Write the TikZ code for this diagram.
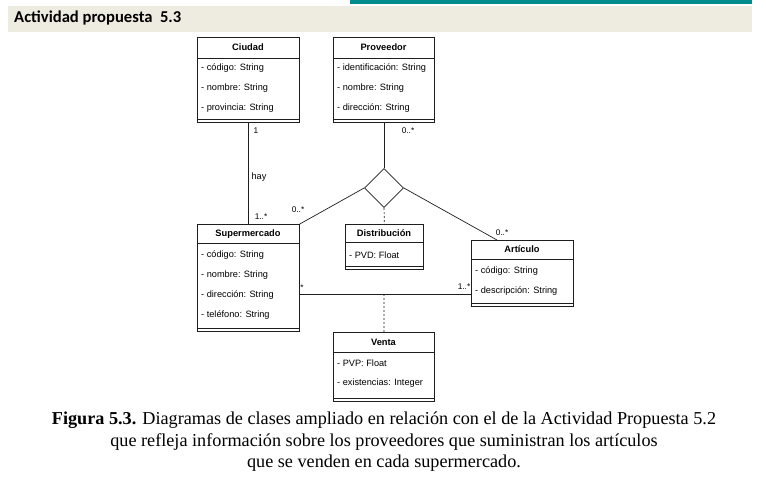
\documentclass[tikz,border=0pt]{standalone}
\usepackage{fontspec}
\setmainfont{Liberation Serif}
\setsansfont{Liberation Sans}
\newfontfamily\headfont{Carlito}
\usetikzlibrary{shapes.geometric}
\definecolor{headbg}{RGB}{238,236,225}
\definecolor{tealbar}{RGB}{0,140,140}
\definecolor{umlline}{RGB}{30,30,30}

\begin{document}
\begin{tikzpicture}[
  x=1pt, y=-1pt,
  every node/.style={inner sep=0pt, font=\sffamily\fontsize{9.2}{11}\selectfont},
  classbox/.style={draw=umlline, line width=0.8pt, fill=white, anchor=north west},
  title/.style={font=\sffamily\bfseries\fontsize{9.3}{11}\selectfont},
  attr/.style={anchor=west},
  mult/.style={font=\sffamily\fontsize{8.3}{10}\selectfont},
  assoc/.style={draw=umlline, line width=0.7pt},
  dep/.style={assoc, dash pattern=on 2pt off 2pt}
]
\useasboundingbox[fill=white] (0,0) rectangle (766,481);
\fill[headbg] (8,6) rectangle (752,32);
\fill[tealbar] (350,0) rectangle (752,4);
\node[anchor=west, font=\headfont\bfseries\fontsize{16.6}{18}\selectfont] (head) at (14,18) {Actividad propuesta\ \ 5.3};

% classes
\node[classbox, minimum width=102, minimum height=85] (ciudad) at (197,37) {};
\draw[umlline, line width=0.8pt] (197,58) -- (299,58) (197,119) -- (299,119);
\node[title] (ciudadT) at (248,47.5) {Ciudad};
\node[attr] (ciudadA1) at (201,68) {- código: String};
\node[attr] (ciudadA2) at (201,88) {- nombre: String};
\node[attr] (ciudadA3) at (201,108) {- provincia: String};

\node[classbox, minimum width=101, minimum height=85] (proveedor) at (333,37) {};
\draw[umlline, line width=0.8pt] (333,58) -- (434,58) (333,119) -- (434,119);
\node[title] (proveedorT) at (383.5,47.5) {Proveedor};
\node[attr] (proveedorA1) at (337,68) {- identificación: String};
\node[attr] (proveedorA2) at (337,88) {- nombre: String};
\node[attr] (proveedorA3) at (337,108) {- dirección: String};

\node[classbox, minimum width=102, minimum height=107] (supermercado) at (197,224) {};
\draw[umlline, line width=0.8pt] (197,243) -- (299,243) (197,328) -- (299,328);
\node[title] (supermercadoT) at (248,234) {Supermercado};
\node[attr] (supermercadoA1) at (201,255.5) {- código: String};
\node[attr] (supermercadoA2) at (201,275.5) {- nombre: String};
\node[attr] (supermercadoA3) at (201,295.5) {- dirección: String};
\node[attr] (supermercadoA4) at (201,315.5) {- teléfono: String};

\node[classbox, minimum width=78, minimum height=45] (distribucion) at (345,224) {};
\draw[umlline, line width=0.8pt] (345,242) -- (423,242) (345,266) -- (423,266);
\node[title] (distribucionT) at (384,233.5) {Distribución};
\node[attr] (distribucionA1) at (349,255) {- PVD: Float};

\node[classbox, minimum width=102, minimum height=66] (articulo) at (471,240) {};
\draw[umlline, line width=0.8pt] (471,259) -- (573,259) (471,303) -- (573,303);
\node[title] (articuloT) at (522,249.5) {Artículo};
\node[attr] (articuloA1) at (475,271) {- código: String};
\node[attr] (articuloA2) at (475,291) {- descripción: String};

\node[classbox, minimum width=101, minimum height=69] (venta) at (333,332) {};
\draw[umlline, line width=0.8pt] (333,352) -- (434,352) (333,398) -- (434,398);
\node[title] (ventaT) at (383.5,342.5) {Venta};
\node[attr] (ventaA1) at (337,363) {- PVP: Float};
\node[attr] (ventaA2) at (337,383) {- existencias: Integer};

% relations
\node[diamond, draw=umlline, line width=0.7pt, minimum width=39, minimum height=39] (rel) at (384,188) {};
\coordinate (ventaJ) at (384,294);
\coordinate (articuloE) at (497,240);
\draw[assoc] (ciudad) -- (supermercado);
\draw[assoc] (proveedor.south -| rel.north) -- (rel.north);
\draw[assoc] (rel.west) -- (supermercado.north east);
\draw[assoc] (rel.east) -- (articuloE);
\draw[dep] (rel.south) -- (distribucion.north);
\draw[assoc] (supermercado.east |- ventaJ) -- (articulo.west |- ventaJ);
\draw[dep] (ventaJ) -- (venta.north);

\node[mult] (m1) at (256,131) {1};
\node[mult, font=\sffamily\fontsize{9.2}{11}\selectfont] (hay) at (259,177) {hay};
\node[mult] (m2) at (261,217) {1..*};
\node[mult] (m3) at (408,131) {0..*};
\node[mult] (m4) at (298,210) {0..*};
\node[mult] (m5) at (502,233) {0..*};
\node[mult] (m6) at (302,288) {*};
\node[mult] (m7) at (464,287) {1..*};

% caption
\node[align=center, font=\rmfamily\fontsize{18.2}{21.5}\selectfont] (caption) at (384,442)
  {\textbf{Figura 5.3.} Diagramas de clases ampliado en relación con el de la Actividad Propuesta 5.2\\
   que refleja información sobre los proveedores que suministran los artículos\\
   que se venden en cada supermercado.};
\end{tikzpicture}
\end{document}
